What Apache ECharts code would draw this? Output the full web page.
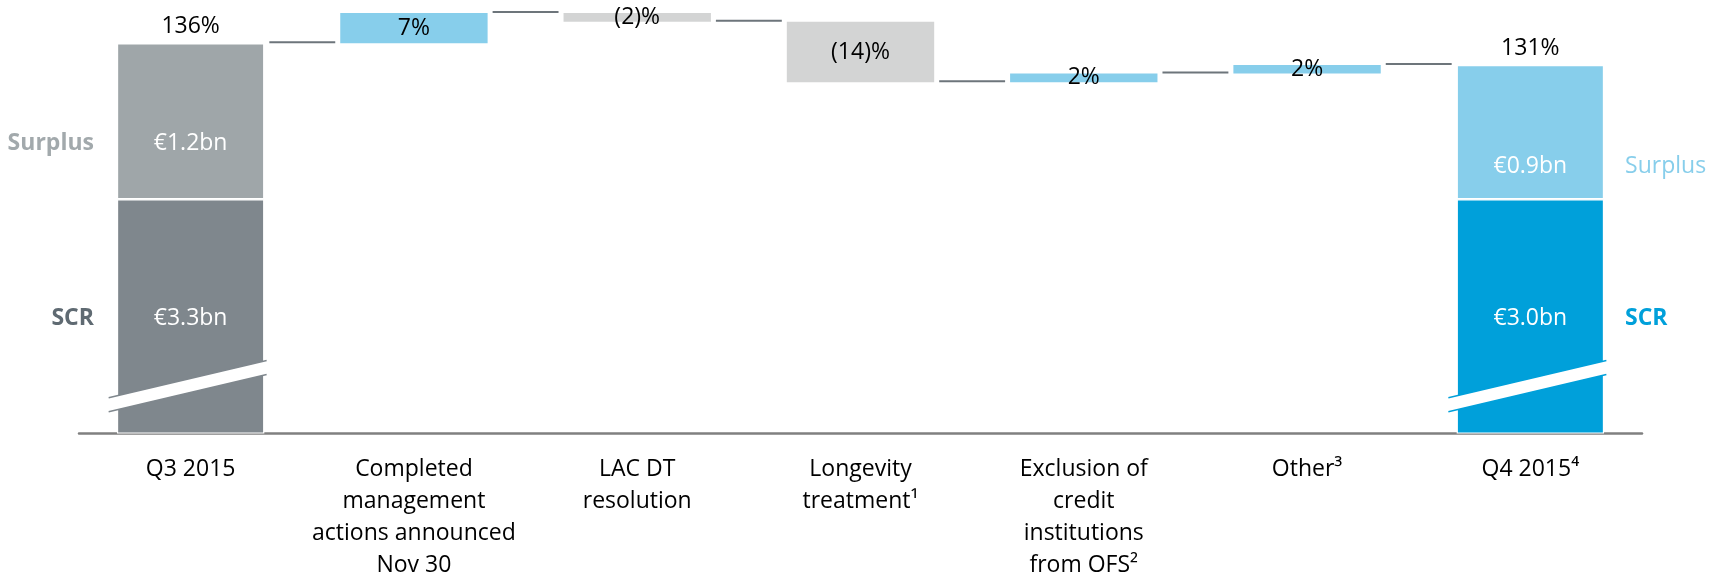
<!DOCTYPE html>
<html>
<head>
<meta charset="utf-8">
<title>Solvency II ratio walk Q3 2015 to Q4 2015</title>
<script src="https://cdn.jsdelivr.net/npm/echarts@6/dist/echarts.min.js"></script>
<style>
  html, body { margin: 0; padding: 0; background: #ffffff; }
  #chart { width: 1721px; height: 581px; }
</style>
</head>
<body>
<div id="chart"></div>
<script>
// ---- data ----
const categories = [
  'Q3 2015',
  'Completed\nmanagement\nactions announced\nNov 30',
  'LAC DT\nresolution',
  'Longevity\ntreatment¹',
  'Exclusion of\ncredit\ninstitutions\nfrom OFS²',
  'Other³',
  'Q4 2015⁴'
];
const openingRatio = 136;          // Q3 2015 solvency ratio, %
const closingRatio = 131;          // Q4 2015 solvency ratio, %
const ratioChanges = [7, -2, -14, 2, 2];   // movements in percentage points
const scrCoverage = 100;           // SCR itself = 100% of SCR
const scrAmounts = ['€3.3bn', '€3.0bn'];
const surplusAmounts = ['€1.2bn', '€0.9bn'];

// ---- colours ----
const C = {
  q3Scr: '#7f878d', q3Surplus: '#9fa6a9',
  q4Scr: '#00a0da', q4Surplus: '#87ceeb',
  up: '#87ceeb', down: '#d3d4d4',
  connector: '#6d757b', axis: '#808080',
  q3TagSurplus: '#a2a9ac', q3TagScr: '#5f6a72',
  q4TagSurplus: '#87ceeb', q4TagScr: '#00a0da'
};
const FONT = '"Open Sans", "DejaVu Sans", sans-serif';
const BAR_SHARE = 0.66;            // bar width as a share of the category band

// ---- derived series ----
const n = categories.length;
const last = n - 1;
const blank = () => new Array(n).fill('-');

const scrData = blank();
const surplusData = blank();
const ratioData = blank();
scrData[0] = scrCoverage; scrData[last] = scrCoverage;
surplusData[0] = openingRatio - scrCoverage; surplusData[last] = closingRatio - scrCoverage;
ratioData[0] = openingRatio; ratioData[last] = closingRatio;

const floatBase = blank();
const floatSize = blank();
const levels = [openingRatio];     // running ratio after each column
let running = openingRatio;
ratioChanges.forEach((c, i) => {
  const next = running + c;
  floatBase[i + 1] = Math.min(running, next);
  floatSize[i + 1] = {
    value: Math.abs(c),
    change: c,
    itemStyle: { color: c >= 0 ? C.up : C.down }
  };
  running = next;
  levels.push(running);
});

const fmtChange = c => (c >= 0 ? c + '%' : '(' + (-c) + ')%');

const common = { type: 'bar', barWidth: (BAR_SHARE * 100) + '%', barGap: '-100%', silent: true };

const option = {
  animation: false,
  backgroundColor: '#ffffff',
  textStyle: { fontFamily: FONT },
  grid: { left: 79, right: 79, top: 0, bottom: 145 },
  xAxis: {
    type: 'category',
    data: categories,
    axisLine: { lineStyle: { color: C.axis, width: 2.5 } },
    axisTick: { show: false },
    axisLabel: {
      interval: 0, color: '#000000', fontFamily: FONT, fontSize: 23,
      lineHeight: 32, margin: 20
    }
  },
  yAxis: {
    type: 'value', min: 46, max: 146,
    show: false, splitLine: { show: false }
  },
  series: [
    // SCR segment of the opening / closing columns
    Object.assign({}, common, {
      name: 'SCR', stack: 'funds', z: 2,
      data: scrData.map((v, i) => v === '-' ? v : {
        value: v,
        itemStyle: { color: i === 0 ? C.q3Scr : C.q4Scr },
        label: { formatter: i === 0 ? scrAmounts[0] : scrAmounts[1], offset: [0, 2] }
      }),
      itemStyle: { borderColor: '#ffffff', borderWidth: 1.2 },
      label: { show: true, position: 'inside', color: '#ffffff', fontSize: 23, fontFamily: FONT }
    }),
    // Surplus segment on top of SCR
    Object.assign({}, common, {
      name: 'Surplus', stack: 'funds', z: 2,
      data: surplusData.map((v, i) => v === '-' ? v : {
        value: v,
        itemStyle: { color: i === 0 ? C.q3Surplus : C.q4Surplus },
        label: { formatter: i === 0 ? surplusAmounts[0] : surplusAmounts[1], offset: [0, i === 0 ? 22 : 34] }
      }),
      itemStyle: { borderColor: '#ffffff', borderWidth: 1.2 },
      label: { show: true, position: 'inside', color: '#ffffff', fontSize: 23, fontFamily: FONT }
    }),
    // Total ratio label above the opening / closing columns
    Object.assign({}, common, {
      name: 'Solvency ratio', stack: 'ratio', z: 1,
      data: ratioData,
      itemStyle: { color: 'rgba(0,0,0,0)' },
      label: {
        show: true, position: 'top', distance: 5, color: '#000000', fontSize: 23, fontFamily: FONT,
        formatter: p => p.value + '%'
      }
    }),
    // Side tags: SCR
    Object.assign({}, common, {
      name: 'SCR tag', stack: 'tags', z: 1,
      data: scrData.map((v, i) => v === '-' ? v : {
        value: v,
        label: i === 0
          ? { position: 'left', distance: 23, color: C.q3TagScr, offset: [0, 2] }
          : { position: 'right', distance: 21, color: C.q4TagScr, offset: [0, 2] }
      }),
      itemStyle: { color: 'rgba(0,0,0,0)' },
      label: { show: true, formatter: 'SCR', fontWeight: 'bold', fontSize: 23, fontFamily: FONT }
    }),
    // Side tags: Surplus
    Object.assign({}, common, {
      name: 'Surplus tag', stack: 'tags', z: 1,
      data: surplusData.map((v, i) => v === '-' ? v : {
        value: v,
        label: i === 0
          ? { position: 'left', distance: 23, color: C.q3TagSurplus, fontWeight: 'bold', offset: [0, 22] }
          : { position: 'right', distance: 21, color: C.q4TagSurplus, fontWeight: 'normal', offset: [0, 34] }
      }),
      itemStyle: { color: 'rgba(0,0,0,0)' },
      label: { show: true, formatter: 'Surplus', fontSize: 23, fontFamily: FONT }
    }),
    // Invisible base that lifts each movement bar
    Object.assign({}, common, {
      name: 'base', stack: 'walk', z: 1,
      data: floatBase,
      itemStyle: { color: 'rgba(0,0,0,0)' }
    }),
    // Movement bars
    Object.assign({}, common, {
      name: 'Movement', stack: 'walk', z: 2,
      data: floatSize,
      label: {
        show: true, position: 'inside', color: '#000000', fontSize: 23, fontFamily: FONT,
        formatter: p => fmtChange(p.data.change)
      }
    }),
    // Connector lines between consecutive columns
    {
      type: 'custom', name: 'connectors', silent: true, z: 3,
      data: levels.map((lv, i) => [i, lv]),
      encode: { x: 0, y: 1 },
      renderItem: (params, api) => {
        const p = api.coord([api.value(0), api.value(1)]);
        const band = api.size([1, 0])[0];
        const half = band * BAR_SHARE / 2;
        return {
          type: 'line',
          shape: { x1: p[0] + half + 5, y1: p[1] - 1, x2: p[0] + band - half - 5, y2: p[1] - 1 },
          style: { stroke: C.connector, lineWidth: 2 }
        };
      }
    },
    // Axis-break slashes across the SCR segments
    {
      type: 'custom', name: 'break', silent: true, z: 4,
      data: [[0, 57], [last, 57]],
      encode: { x: 0, y: 1 },
      renderItem: (params, api) => {
        const idx = api.value(0);
        const c = api.coord([idx, api.value(1)]);
        const k = 0.236, t = 14, xl = c[0] - 82, xr = c[0] + 76;
        const yTop = x => c[1] - t / 2 - k * (x - c[0]);
        const edge = idx === 0 ? C.q3Scr : C.q4Scr;
        return {
          type: 'group',
          children: [
            { type: 'polygon',
              shape: { points: [[xl, yTop(xl)], [xr, yTop(xr)], [xr, yTop(xr) + t], [xl, yTop(xl) + t]] },
              style: { fill: '#ffffff' } },
            { type: 'line', shape: { x1: xl, y1: yTop(xl), x2: xr, y2: yTop(xr) },
              style: { stroke: edge, lineWidth: 1.5 } },
            { type: 'line', shape: { x1: xl, y1: yTop(xl) + t, x2: xr, y2: yTop(xr) + t },
              style: { stroke: edge, lineWidth: 1.5 } }
          ]
        };
      }
    }
  ]
};

const chart = echarts.init(document.getElementById('chart'), null, { renderer: 'canvas' });
chart.setOption(option);
</script>
</body>
</html>
